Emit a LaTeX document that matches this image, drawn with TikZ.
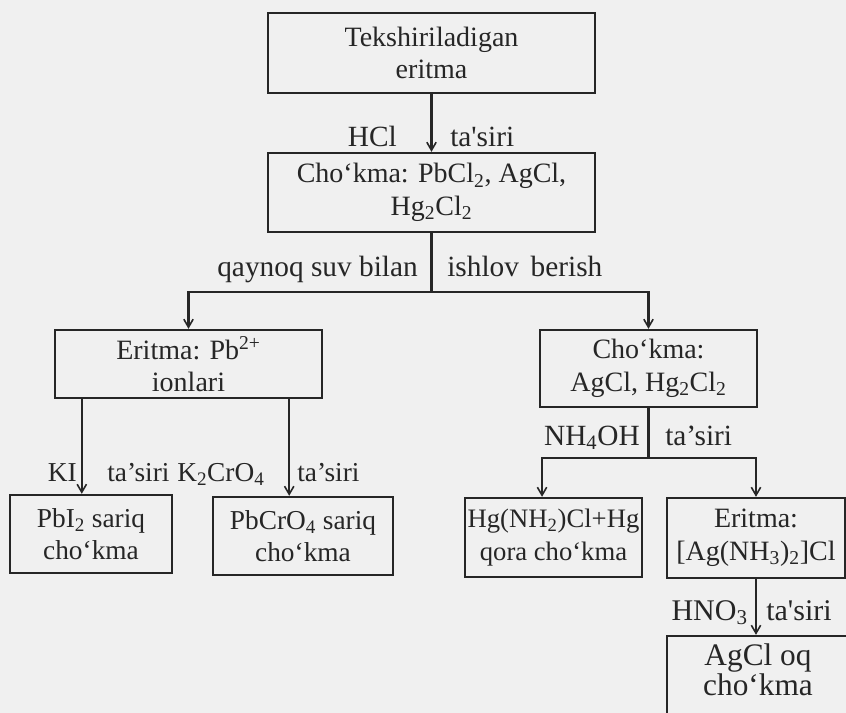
\documentclass[tikz,border=0pt]{standalone}
\usepackage{fontspec}
\setmainfont{Liberation Serif}
\usetikzlibrary{arrows.meta}
\definecolor{ink}{RGB}{38,38,38}
\definecolor{paper}{RGB}{240,240,240}
\begin{document}
\begin{tikzpicture}[x=0.75pt,y=-0.75pt,
  txt/.style={font=\fontsize{21}{24.5}\selectfont},
  box/.style={txt, draw=ink, text=ink, line width=1.8pt, align=center, inner sep=0pt},
  lbl/.style={font=\fontsize{22}{26}\selectfont, text=ink, inner sep=0pt},
  link/.style={draw=ink, line width=1.8pt},
  arr/.style={link, -{Straight Barb[length=6pt,width=7pt,line width=1.2pt]}}]

% page
\clip (0,0) rectangle (846,713);
\fill[paper] (0,0) rectangle (846,713);

% boxes
\node[box, minimum width=245.25pt, minimum height=60pt]    (b1) at (431.5,53)  {Tekshiriladigan\\eritma};
\node[box, minimum width=245.25pt, minimum height=59.25pt] (b2) at (431.5,192.5) {Cho‘kma: PbCl\textsubscript{2}, AgCl,\\Hg\textsubscript{2}Cl\textsubscript{2}};
\node[box, minimum width=200.25pt, minimum height=51pt]    (b3) at (188.5,364) {Eritma: Pb\textsuperscript{2+}\\ionlari};
\node[box, minimum width=162.75pt, minimum height=57.75pt] (b4) at (648.5,368.5) {Cho‘kma:\\AgCl, Hg\textsubscript{2}Cl\textsubscript{2}};
\node[box, font=\fontsize{20.5}{24.5}\selectfont, minimum width=121.5pt,  minimum height=58.5pt]  (b5) at (91,534)  {PbI\textsubscript{2} sariq\\cho‘kma};
\node[box, font=\fontsize{20.5}{24.5}\selectfont, minimum width=135pt,    minimum height=58.5pt]  (b6) at (303,536) {PbCrO\textsubscript{4} sariq\\cho‘kma};
\node[box, font=\fontsize{20}{24.5}\selectfont, minimum width=132.75pt, minimum height=59.25pt] (b7) at (553.5,537.5) {Hg(NH\textsubscript{2})Cl+Hg\\qora cho‘kma};
\node[box, minimum width=133.5pt,  minimum height=60pt]    (b8) at (756,538) {Eritma:\\{[}Ag(NH\textsubscript{3})\textsubscript{2}]Cl};
% last box runs past the lower edge of the page
\node[box, minimum width=136.5pt,  minimum height=63pt] (b9) at (758,678) {};
\node[txt, text=ink, align=center, inner sep=0pt, font=\fontsize{23.5}{22.5}\selectfont] (b9t) at (758,670) {AgCl oq\\cho‘kma};

% branch points
\coordinate (j1) at (431.5,292);
\coordinate (j2) at (648.5,458);

% connectors
\draw[arr] (b1.south) -- (b2.north);
\draw[link] (b2.south) -- (j1);
\draw[arr] (j1) -| (b3.north);
\draw[arr] (j1) -| (b4.north);
\draw[arr] ([xshift=21pt]b3.south west) coordinate (k1) -- (k1 |- b5.north);
\draw[arr] ([xshift=-25.5pt]b3.south east) coordinate (k2) -- (k2 |- b6.north);
\draw[link] (b4.south) -- (j2);
\draw[arr] (j2) -| ([xshift=-8.6pt]b7.north);
\draw[arr] (j2) -| (b8.north);
\draw[arr] (b8.south) -- (b8.south |- b9.north);

% reagent labels
\node[lbl, anchor=base east] (l1) at (397,147) {HCl};
\node[lbl, anchor=base west] (l2) at (450,147) {ta\textquotesingle siri};
\node[lbl, anchor=base east] (l3) at (418,276) {qaynoq suv bilan};
\node[lbl, anchor=base west] (l4) at (447,276) {ishlov\hspace{0.4em}berish};
\node[lbl, font=\fontsize{20.5}{24}\selectfont, anchor=base east] (l5) at (77,481) {KI};
\node[lbl, font=\fontsize{20.5}{24}\selectfont, anchor=base west] (l6) at (107,481) {ta’siri};
\node[lbl, font=\fontsize{20.5}{24}\selectfont, anchor=base west] (l7) at (177,481) {K\textsubscript{2}CrO\textsubscript{4}};
\node[lbl, font=\fontsize{20.5}{24}\selectfont, anchor=base west] (l8) at (297,481) {ta’siri};
\node[lbl, anchor=base east] (l9) at (640,445) {NH\textsubscript{4}OH};
\node[lbl, anchor=base west] (l10) at (665,445) {ta’siri};
\node[lbl, font=\fontsize{22.5}{26}\selectfont, anchor=base east] (l11) at (748,620) {HNO\textsubscript{3}};
\node[lbl, font=\fontsize{22.5}{26}\selectfont, anchor=base west] (l12) at (766,620) {ta\textquotesingle siri};
\end{tikzpicture}
\end{document}
